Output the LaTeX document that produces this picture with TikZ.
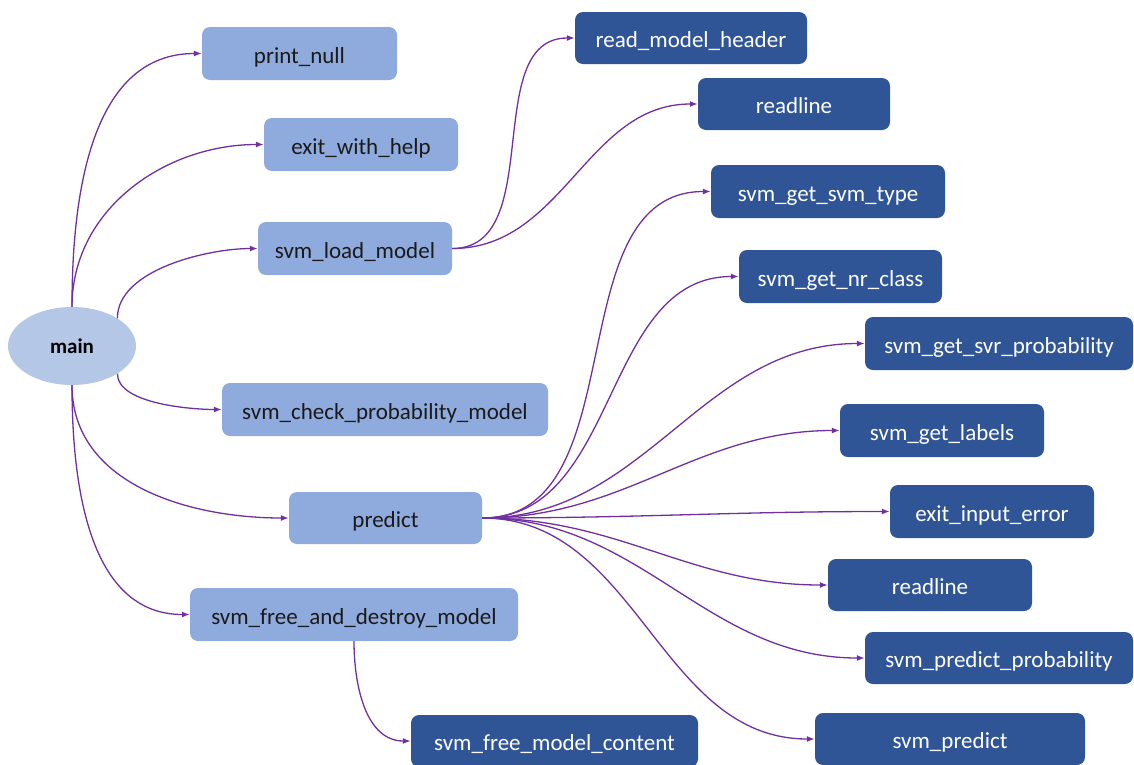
\documentclass[tikz,border=0pt]{standalone}
\usepackage{fontspec}
\setmainfont{Carlito}
\usetikzlibrary{arrows.meta,shapes.geometric}

\definecolor{lightfill}{HTML}{8FAADC}
\definecolor{darkfill}{HTML}{2F5597}
\definecolor{rootfill}{HTML}{B4C7E7}
\definecolor{callline}{HTML}{7030A0}
\definecolor{lighttext}{HTML}{1A1A1A}

\tikzset{
  fnbox/.style={rectangle, rounded corners=8pt, inner sep=0pt,
    text height=19pt, text depth=0pt,
    font=\fontsize{23}{27}\selectfont},
  lbox/.style={fnbox, fill=lightfill, text=lighttext},
  dbox/.style={fnbox, fill=darkfill, text=white},
  rootnode/.style={ellipse, fill=rootfill, inner sep=0pt,
    minimum width=128pt, minimum height=78pt,
    font=\fontsize{21}{25}\selectfont\bfseries},
  call/.style={draw=callline, line width=1.3pt,
    -{Latex[length=8pt,width=6pt]}},
  scurve/.style={call, out=0, in=180},
}

\begin{document}
\begin{tikzpicture}[x=1pt, y=-1pt]
\useasboundingbox (0,0) rectangle (1134,764);

% root
\node[rootnode] (main) at (72,346) {main};

% functions called by main
\node[lbox, minimum width=195pt, minimum height=53pt] (printnull) at (299.5,53.5) {print\_null};
\node[lbox, minimum width=194pt, minimum height=53pt] (exithelp) at (361,144.5) {exit\_with\_help};
\node[lbox, minimum width=194pt, minimum height=53pt] (loadmodel) at (355,248.5) {svm\_load\_model};
\node[lbox, minimum width=326pt, minimum height=53pt] (checkprob) at (385,409.5) {svm\_check\_probability\_model};
\node[lbox, minimum width=193pt, minimum height=52pt] (predict) at (385.5,518) {predict};
\node[lbox, minimum width=328pt, minimum height=53pt] (freedestroy) at (354,614.5) {svm\_free\_and\_destroy\_model};

% functions called by svm_load_model
\node[dbox, minimum width=232pt, minimum height=52pt] (readheader) at (691,38) {read\_model\_header};
\node[dbox, minimum width=192pt, minimum height=52pt] (readlineA) at (794,104) {readline};

% functions called by predict
\node[dbox, minimum width=234pt, minimum height=53pt] (svmtype) at (828,191.5) {svm\_get\_svm\_type};
\node[dbox, minimum width=203pt, minimum height=53pt] (nrclass) at (840.5,276.5) {svm\_get\_nr\_class};
\node[dbox, minimum width=268pt, minimum height=53pt] (svrprob) at (999,343.5) {svm\_get\_svr\_probability};
\node[dbox, minimum width=204pt, minimum height=53pt] (labels) at (942,430.5) {svm\_get\_labels};
\node[dbox, minimum width=204pt, minimum height=53pt] (inputerror) at (992,511.5) {exit\_input\_error};
\node[dbox, minimum width=204pt, minimum height=52pt] (readlineB) at (930,585) {readline};
\node[dbox, minimum width=268pt, minimum height=52pt] (predprob) at (999,658) {svm\_predict\_probability};
\node[dbox, minimum width=270pt, minimum height=52pt] (svmpredict) at (950,739) {svm\_predict};

% function called by svm_free_and_destroy_model
\node[dbox, minimum width=287pt, minimum height=52pt] (freecontent) at (554.5,741) {svm\_free\_model\_content};

% calls from main
\draw[call] (main.north) to[out=90, in=180] (printnull.west);
\draw[call] (main.north) to[out=90, in=180] (exithelp.west);
\draw[call] (main.north east) to[out=90, in=180, looseness=0.8] (loadmodel.west);
\draw[call] (main.south east) to[out=-90, in=180, looseness=0.7] (checkprob.west);
\draw[call] (main.south) to[out=-90, in=180] (predict.west);
\draw[call] (main.south) to[out=-90, in=180] (freedestroy.west);

% calls from svm_load_model
\draw[scurve] (loadmodel.east) to (readheader.west);
\draw[scurve] (loadmodel.east) to (readlineA.west);

% calls from predict
\draw[scurve] (predict.east) to (svmtype.west);
\draw[scurve] (predict.east) to (nrclass.west);
\draw[scurve] (predict.east) to (svrprob.west);
\draw[scurve] (predict.east) to (labels.west);
\draw[scurve] (predict.east) to (inputerror.west);
\draw[scurve] (predict.east) to (readlineB.west);
\draw[scurve] (predict.east) to (predprob.west);
\draw[scurve] (predict.east) to (svmpredict.west);

% call from svm_free_and_destroy_model
\draw[call] (freedestroy.south) to[out=-90, in=180] (freecontent.west);
\end{tikzpicture}
\end{document}
